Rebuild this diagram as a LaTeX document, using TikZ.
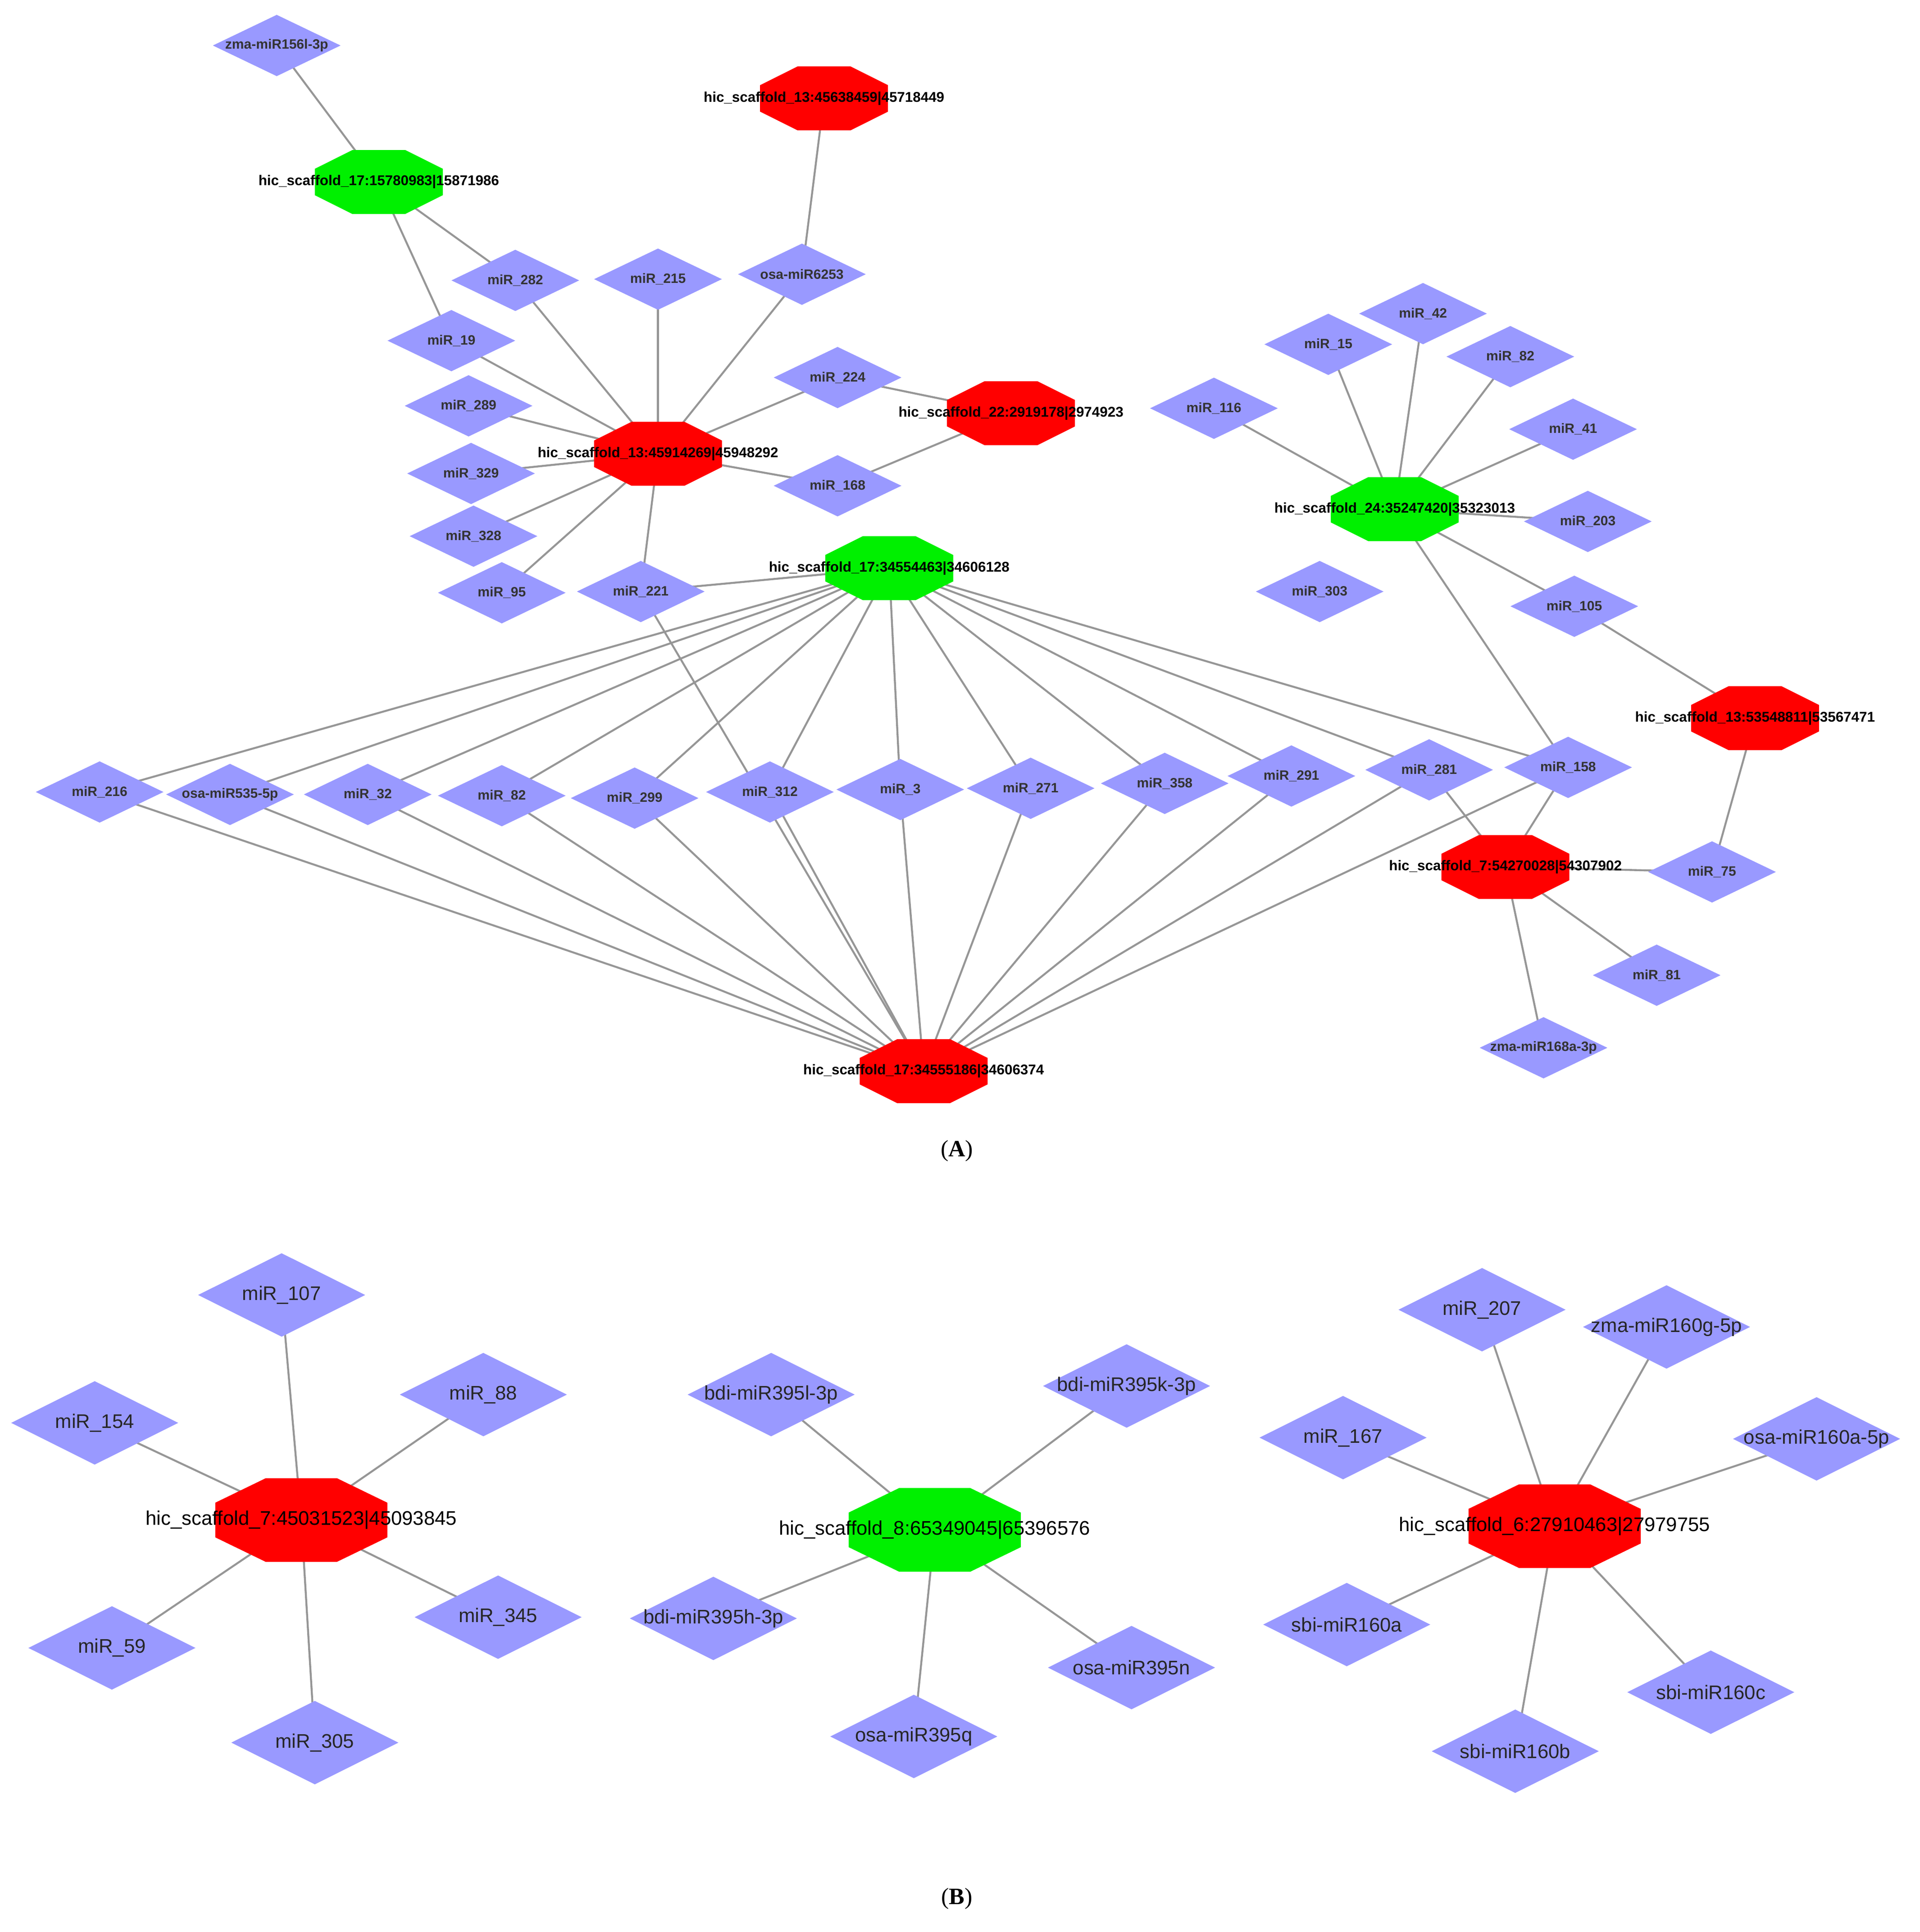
\documentclass[tikz,border=0pt]{standalone}
\usepackage{fontspec}
\setmainfont{Liberation Sans}
\setsansfont{Liberation Sans}
\newfontfamily\capfont{Liberation Serif}
\usetikzlibrary{shapes.geometric}
\definecolor{dia}{RGB}{153,153,255}
\definecolor{hred}{RGB}{255,0,0}
\definecolor{hgreen}{RGB}{0,240,0}
\definecolor{edg}{RGB}{150,150,150}
\newcommand\octo[4]{%
\begin{scope}[shift={(#1)}]
\fill[#2] ({-0.414*#3},{-#4}) -- ({0.414*#3},{-#4}) -- ({#3},{-0.414*#4}) -- ({#3},{0.414*#4}) -- ({0.414*#3},{#4}) -- ({-0.414*#3},{#4}) -- ({-#3},{0.414*#4}) -- ({-#3},{-0.414*#4}) -- cycle;
\end{scope}}
\begin{document}
\begin{tikzpicture}[x=1pt,y=-1pt,
  da/.style={diamond,fill=dia,draw=none,minimum width=104pt,minimum height=50pt,inner sep=0pt},
  db/.style={diamond,fill=dia,draw=none,minimum width=136pt,minimum height=68pt,inner sep=0pt},
  ta/.style={font=\fontsize{11}{11}\selectfont\bfseries,text=black!80,inner sep=0pt},
  tb/.style={font=\fontsize{16}{16}\selectfont,text=black!85,inner sep=0pt},
  ha/.style={font=\fontsize{11.5}{12}\selectfont\bfseries,inner sep=0pt},
  hb/.style={font=\fontsize{16}{16}\selectfont,inner sep=0pt},
  e/.style={draw=edg,line width=1.6pt}]
\useasboundingbox (0,0) rectangle (1561,1571);
% ---------- coordinates (A)
\coordinate (z156) at (225,37);
\coordinate (h17a) at (308,148);
\coordinate (h13a) at (670,80);
\coordinate (m282) at (419,228);
\coordinate (m215) at (535,227);
\coordinate (o6253) at (652,223);
\coordinate (m19) at (367,277);
\coordinate (m224) at (681,307);
\coordinate (h22) at (822,336);
\coordinate (m116) at (987,332);
\coordinate (m289) at (381,330);
\coordinate (h13b) at (535,369);
\coordinate (m329) at (383,385);
\coordinate (m168) at (681,395);
\coordinate (m328) at (385,436);
\coordinate (m95) at (408,482);
\coordinate (m221) at (521,481);
\coordinate (h17b) at (723,462);
\coordinate (m15) at (1080,280);
\coordinate (m42) at (1157,255);
\coordinate (m82a) at (1228,290);
\coordinate (m41) at (1279,349);
\coordinate (h24) at (1134,414);
\coordinate (m203) at (1291,424);
\coordinate (m303) at (1073,481);
\coordinate (m105) at (1280,493);
\coordinate (h13c) at (1427,584);
\coordinate (m75) at (1392,709);
\coordinate (m216) at (81,644);
\coordinate (o535) at (187,646);
\coordinate (m32) at (299,646);
\coordinate (m82b) at (408,647);
\coordinate (m299) at (516,649);
\coordinate (m312) at (626,644);
\coordinate (m3) at (732,642);
\coordinate (m271) at (838,641);
\coordinate (m358) at (947,637);
\coordinate (m291) at (1050,631);
\coordinate (m281) at (1162,626);
\coordinate (m158) at (1275,624);
\coordinate (h7) at (1224,705);
\coordinate (m81) at (1347,793);
\coordinate (z168) at (1255,852);
\coordinate (h17c) at (751,871);
% ---------- coordinates (B)
\coordinate (h7b) at (245,1236);
\coordinate (m107) at (229,1053);
\coordinate (m88) at (393,1134);
\coordinate (m154) at (77,1157);
\coordinate (m345) at (405,1315);
\coordinate (m59) at (91,1340);
\coordinate (m305) at (256,1417);
\coordinate (h8) at (760,1244);
\coordinate (b395l) at (627,1134);
\coordinate (b395k) at (916,1127);
\coordinate (b395h) at (580,1316);
\coordinate (o395n) at (920,1356);
\coordinate (o395q) at (743,1412);
\coordinate (h6) at (1264,1241);
\coordinate (m207) at (1205,1065);
\coordinate (z160g) at (1355,1079);
\coordinate (m167) at (1092,1169);
\coordinate (o160a) at (1477,1170);
\coordinate (s160a) at (1095,1321);
\coordinate (s160c) at (1391,1376);
\coordinate (s160b) at (1232,1424);
% ---------- edges
\foreach \a/\b in {z156/h17a,h17a/m282,h17a/m19,h13a/o6253,
  h13b/m19,h13b/m289,h13b/m329,h13b/m328,h13b/m95,h13b/m221,h13b/m282,h13b/m215,h13b/o6253,h13b/m224,h13b/m168,
  h22/m224,h22/m168,m116/h24,
  h24/m15,h24/m42,h24/m82a,h24/m41,h24/m203,h24/m105,h24/m158,
  h13c/m105,h13c/m75,h7/m281,h7/m158,h7/m75,h7/m81,h7/z168,
  h17b/m221,h17b/m216,h17b/o535,h17b/m32,h17b/m82b,h17b/m299,h17b/m312,h17b/m3,h17b/m271,h17b/m358,h17b/m291,h17b/m281,h17b/m158,
  h17c/m221,h17c/m216,h17c/o535,h17c/m32,h17c/m82b,h17c/m299,h17c/m312,h17c/m3,h17c/m271,h17c/m358,h17c/m291,h17c/m281,h17c/m158,
  h7b/m107,h7b/m88,h7b/m154,h7b/m345,h7b/m59,h7b/m305,
  h8/b395l,h8/b395k,h8/b395h,h8/o395n,h8/o395q,
  h6/m207,h6/z160g,h6/m167,h6/o160a,h6/s160a,h6/s160c,h6/s160b}
  {\draw[e] (\a) -- (\b);}
% ---------- diamonds A
\foreach \n/\t in {z156/zma-miR156l-3p,m282/miR\_282,m215/miR\_215,o6253/osa-miR6253,m19/miR\_19,m224/miR\_224,m116/miR\_116,m289/miR\_289,m329/miR\_329,m168/miR\_168,m328/miR\_328,m95/miR\_95,m221/miR\_221,m15/miR\_15,m42/miR\_42,m82a/miR\_82,m41/miR\_41,m203/miR\_203,m303/miR\_303,m105/miR\_105,m75/miR\_75,m216/miR\_216,o535/osa-miR535-5p,m32/miR\_32,m82b/miR\_82,m299/miR\_299,m312/miR\_312,m3/miR\_3,m271/miR\_271,m358/miR\_358,m291/miR\_291,m281/miR\_281,m158/miR\_158,m81/miR\_81,z168/zma-miR168a-3p}
  {\node[da] (d\n) at (\n) {}; \node[ta] at (\n) {\t};}
% ---------- diamonds B
\foreach \n/\t in {m107/miR\_107,m88/miR\_88,m154/miR\_154,m345/miR\_345,m59/miR\_59,m305/miR\_305,b395l/bdi-miR395l-3p,b395k/bdi-miR395k-3p,b395h/bdi-miR395h-3p,o395n/osa-miR395n,o395q/osa-miR395q,m207/miR\_207,z160g/zma-miR160g-5p,m167/miR\_167,o160a/osa-miR160a-5p,s160a/sbi-miR160a,s160c/sbi-miR160c,s160b/sbi-miR160b}
  {\node[db] (d\n) at (\n) {}; \node[tb] at (\n) {\t};}
% ---------- hubs A
\foreach \n/\c in {h17a/hgreen,h13a/hred,h22/hred,h13b/hred,h17b/hgreen,h24/hgreen,h13c/hred,h7/hred,h17c/hred}
  {\octo{\n}{\c}{52}{26}}
\node[ha] (l17a) at (h17a) {hic\_scaffold\_17:15780983|15871986};
\node[ha] (l13a) at (h13a) {hic\_scaffold\_13:45638459|45718449};
\node[ha] (l22) at (h22) {hic\_scaffold\_22:2919178|2974923};
\node[ha] (l13b) at (h13b) {hic\_scaffold\_13:45914269|45948292};
\node[ha] (l17b) at (h17b) {hic\_scaffold\_17:34554463|34606128};
\node[ha] (l24) at (h24) {hic\_scaffold\_24:35247420|35323013};
\node[ha] (l13c) at (h13c) {hic\_scaffold\_13:53548811|53567471};
\node[ha] (l7) at (h7) {hic\_scaffold\_7:54270028|54307902};
\node[ha] (l17c) at (h17c) {hic\_scaffold\_17:34555186|34606374};
% ---------- hubs B
\octo{h7b}{hred}{70}{34}
\octo{h8}{hgreen}{70}{34}
\octo{h6}{hred}{70}{34}
\node[hb] (l7b) at (h7b) {hic\_scaffold\_7:45031523|45093845};
\node[hb] (l8) at (h8) {hic\_scaffold\_8:65349045|65396576};
\node[hb] (l6) at (h6) {hic\_scaffold\_6:27910463|27979755};
% ---------- captions
\node[font=\capfont\fontsize{19}{19}\selectfont] (capA) at (778,936) {(\textbf{A})};
\node[font=\capfont\fontsize{19}{19}\selectfont] (capB) at (778,1544) {(\textbf{B})};
\end{tikzpicture}
\end{document}
